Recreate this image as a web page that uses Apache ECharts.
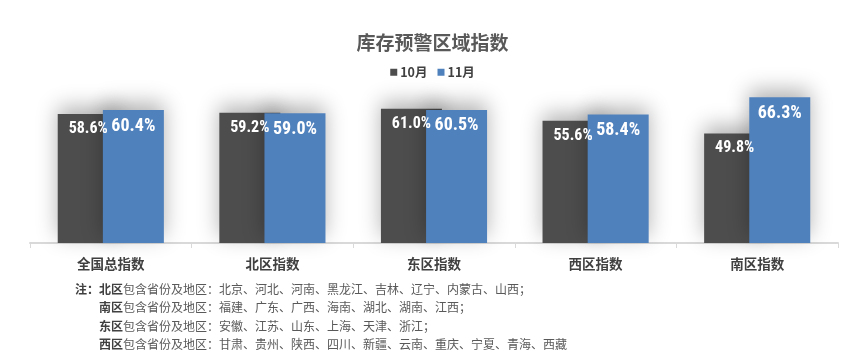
<!DOCTYPE html>
<html><head><meta charset="utf-8">
<script src="https://cdn.jsdelivr.net/npm/echarts@6/dist/echarts.min.js"></script>
<style>html,body{margin:0;padding:0;background:#fff}#c{width:865px;height:361px}</style>
</head><body><div id="c"></div>
<script>
const categories = ['全国总指数', '北区指数', '东区指数', '西区指数', '南区指数'];
const octValues = [58.6, 59.2, 61.0, 55.6, 49.8];
const novValues = [60.4, 59.0, 60.5, 58.4, 66.3];
const seriesNames = ['10月', '11月'];
const noteRegions = ['北区', '南区', '东区', '西区'];
const noteLists = [
  '北京、河北、河南、黑龙江、吉林、辽宁、内蒙古、山西；',
  '福建、广东、广西、海南、湖北、湖南、江西；',
  '安徽、江苏、山东、上海、天津、浙江；',
  '甘肃、贵州、陕西、四川、新疆、云南、重庆、宁夏、青海、西藏'
];

const cjk = '"Noto Sans CJK SC", sans-serif';
const narrow = '"Roboto Condensed", "Liberation Sans Narrow", Roboto, sans-serif';
const chart = echarts.init(document.getElementById('c'));

const noteGraphics = noteRegions.map((r, i) => ({
  type: 'text',
  left: i === 0 ? 75 : 99,
  top: 283 + i * 18.6,
  style: {
    text: (i === 0 ? '{b|注：}' : '') + '{b|' + r + '}{n|包含省份及地区：' + noteLists[i] + '}',
    rich: {
      b: { fontFamily: cjk, fontSize: 12, fontWeight: 'bold', fill: '#404040' },
      n: { fontFamily: cjk, fontSize: 12, fill: '#595959' }
    }
  }
}));

const barShadow = { shadowColor: 'rgba(0,0,0,0.3)', shadowBlur: 20, shadowOffsetY: -7 };

chart.setOption({
  animation: false,
  title: {
    text: '库存预警区域指数', left: 'center', top: 28,
    textStyle: { fontFamily: cjk, fontSize: 19, fontWeight: 'bold', color: '#595959' }
  },
  legend: {
    data: seriesNames, top: 61, left: 'center', itemWidth: 7, itemHeight: 7, itemGap: 10,
    icon: 'rect',
    textStyle: { fontFamily: cjk, fontSize: 12.5, fontWeight: 'bold', color: '#404040', padding: [0, 0, 0, -2] }
  },
  grid: { left: 30, right: 27, top: 78, bottom: 118 },
  xAxis: {
    type: 'category', data: categories,
    axisLine: { lineStyle: { color: '#d9d9d9', width: 2 } },
    axisTick: { show: true, length: 5, lineStyle: { color: '#d9d9d9' } },
    axisLabel: { fontFamily: cjk, fontSize: 13.5, fontWeight: 'bold', color: '#404040', margin: 14 }
  },
  yAxis: { type: 'value', min: 0, max: 75, show: false, splitLine: { show: false } },
  series: [
    {
      name: seriesNames[0], type: 'bar', data: octValues, barWidth: 61, barGap: '-26%',
      itemStyle: Object.assign({ color: '#4d4d4d' }, barShadow),
      label: {
        show: true, position: 'insideTop', distance: 7, color: '#fff',
        fontFamily: narrow, fontWeight: 'bold', fontSize: 16,
        formatter: p => p.value.toFixed(1) + '%'
      }
    },
    {
      name: seriesNames[1], type: 'bar', data: novValues, barWidth: 61,
      itemStyle: Object.assign({ color: '#4f81bd' }, barShadow),
      label: {
        show: true, position: 'insideTop', distance: 7, color: '#fff',
        fontFamily: narrow, fontWeight: 'bold', fontSize: 18,
        formatter: p => p.value.toFixed(1) + '%'
      }
    }
  ],
  graphic: noteGraphics
});
</script></body></html>
